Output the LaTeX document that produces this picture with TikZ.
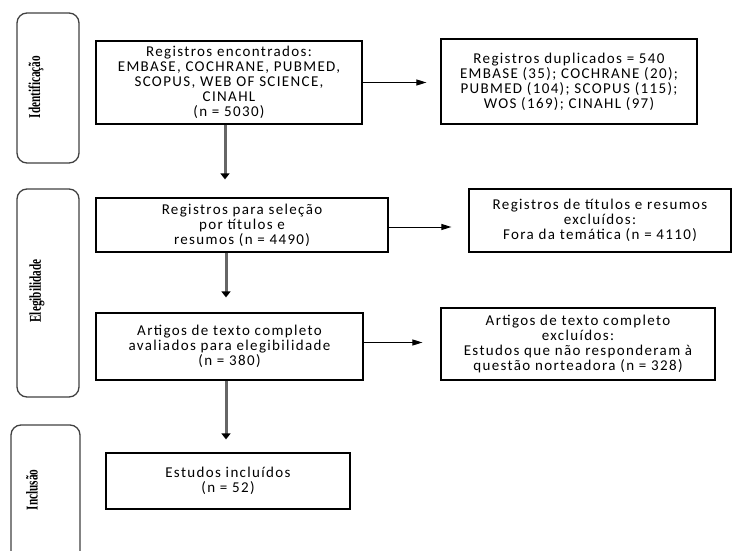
\documentclass[tikz,border=0pt]{standalone}
\usepackage{fontspec}
\setmainfont{Carlito}[LetterSpace=9]
\newfontfamily\sidefont{Liberation Serif}
\usetikzlibrary{arrows.meta, positioning}

\tikzset{
	stage/.style={draw=black!75, line width=1.3pt, rounded corners=10pt, minimum width=62pt},
	stagelbl/.style={rotate=90, inner sep=0pt, font=\sidefont\bfseries\fontsize{16.5}{18}\selectfont},
	box/.style={draw, line width=1.2pt, align=center, inner sep=2pt, font=\fontsize{15}{15}\selectfont},
	todown/.style={draw=black!60, line width=3pt, -{Triangle[length=6pt,width=9pt,color=black]}},
	toright/.style={draw, line width=1pt, -{Triangle[length=10pt,width=6pt]}}
}

\begin{document}
\begin{tikzpicture}[x=1pt, y=-1pt]
	\useasboundingbox (0,0) rectangle (732,551);
	\clip (0,0) rectangle (732,551);

	% stages on the left
	\node[stage, minimum height=150pt] (ident) at (48,88) {};
	\node[stagelbl] (identlbl) at (36,87) {\scalebox{0.68}[1]{Identificação}};
	\node[stage, minimum height=208pt] (eleg) at (48,293) {};
	\node[stagelbl] (eleglbl) at (37,291) {\scalebox{0.68}[1]{Elegibilidade}};
	\node[stage, minimum width=69pt, minimum height=150pt] (incl) at (45.5,500) {};
	\node[stagelbl] (incllbl) at (32,490) {\scalebox{0.68}[1]{Inclusão}};

	% main column
	\node[box, minimum width=266pt, minimum height=83pt] (reg) at (229,82.5)
		{Registros encontrados:\\EMBASE, COCHRANE, PUBMED,\\SCOPUS, WEB OF SCIENCE,\\CINAHL\\(n = 5030)};
	\node[box, minimum width=292pt, minimum height=54pt] (sel) at (242,225)
		{Registros para seleção\\por títulos e\\resumos (n = 4490)};
	\node[box, minimum width=267pt, minimum height=67pt] (full) at (229.5,346.5)
		{Artigos de texto completo\\avaliados para elegibilidade\\(n = 380)};
	\node[box, minimum width=244pt, minimum height=56pt] (final) at (228,481)
		{Estudos incluídos\\(n = 52)};

	% excluded
	\node[box, minimum width=256pt, minimum height=85pt] (dup) at (569,81.5)
		{Registros duplicados = 540\\EMBASE (35); COCHRANE (20);\\PUBMED (104); SCOPUS (115);\\WOS (169); CINAHL (97)};
	\node[box, minimum width=262pt, minimum height=63pt] (exc1) at (600,220.5)
		{Registros de títulos e resumos\\excluídos:\\Fora da temática (n = 4110)};
	\node[box, minimum width=274pt, minimum height=72pt] (exc2) at (578,344)
		{Artigos de texto completo\\excluídos:\\Estudos que não responderam à\\questão norteadora (n = 328)};

	% arrows
	\draw[toright, shorten >=14pt] (reg.east) -- (reg.east -| dup.west);
	\draw[toright, shorten >=17pt] ([yshift=-2pt]sel.east) -- ([yshift=-2pt]sel.east -| exc1.west);
	\draw[toright, shorten >=18pt] ([yshift=4pt]full.east) -- ([yshift=4pt]full.east -| exc2.west);
	\draw[todown, shorten >=18pt] ([xshift=-4pt]reg.south) -- ([xshift=-4pt]reg.south |- sel.north);
	\draw[todown, shorten >=15pt] ([xshift=-16pt]sel.south) -- ([xshift=-16pt]sel.south |- full.north);
	\draw[todown, shorten >=13pt] ([xshift=-3.5pt]full.south) -- ([xshift=-3.5pt]full.south |- final.north);
\end{tikzpicture}
\end{document}
